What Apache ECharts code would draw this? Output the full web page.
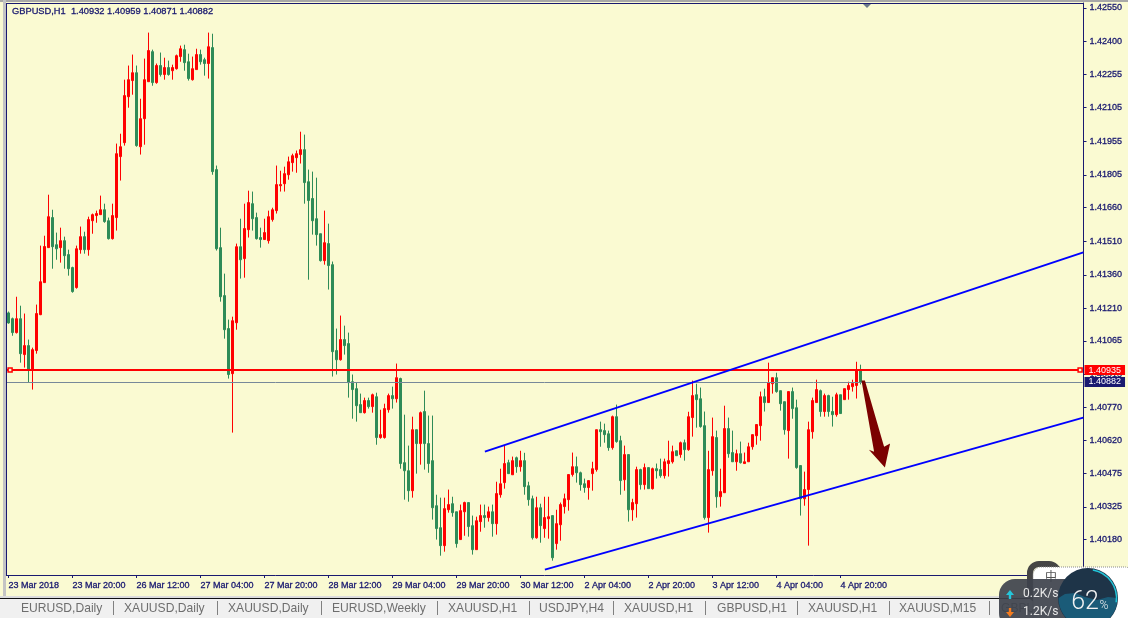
<!DOCTYPE html>
<html><head><meta charset="utf-8">
<style>html,body{margin:0;padding:0;background:#fafad2;overflow:hidden}#c{width:1128px;height:618px}</style>
<script src="https://cdn.jsdelivr.net/npm/echarts@6/dist/echarts.min.js"></script>
</head><body><div id="c"></div>
<script>
// Prices are written in points above 1.40000 (1 point = 0.00001)
const opens=[1190,1164,1102,1164,1004,1044,937,1022,1182,1325,
1481,1615,1494,1481,1512,1450,1392,1303,1472,1530,
1472,1601,1624,1628,1650,1601,1521,1615,1887,1949,
2154,2226,2261,1931,2056,2221,2355,2217,2293,2253,
2284,2270,2279,2333,2364,2310,2230,2275,2342,2319,
2302,2373,1829,1481,1267,1120,919,1146,1485,1432,
1561,1677,1615,1526,1517,1512,1606,1646,1757,1766,
1806,1860,1882,1896,1918,1775,1700,1610,1543,1423,
1499,1405,1022,981,1071,1053,883,852,781,745,
799,772,816,634,634,758,821,807,897,522,
486,397,669,607,750,607,531,330,232,152,
312,339,303,179,303,344,241,134,259,286,
277,303,250,379,433,522,468,544,504,531,
419,361,187,321,228,272,286,161,245,326,
357,469,504,477,428,411,473,491,669,665,
651,589,727,620,446,558,312,339,491,424,
500,406,495,491,464,518,526,575,558,611,
580,723,825,807,687,277,486,634,370,388,
674,567,526,562,518,526,593,642,687,816,
790,874,901,843,794,665,839,767,509,361,
402,660,790,843,750,821,750,736,825,803,
848,861,866,932];
const closes=[1145,1102,1164,1008,1044,937,1026,1187,1329,1486,
1619,1485,1476,1512,1445,1387,1285,1476,1530,1472,
1606,1628,1633,1650,1597,1521,1624,1900,1931,2159,
2230,2261,1936,2056,2230,2360,2217,2293,2253,2284,
2253,2284,2337,2368,2306,2235,2279,2342,2310,2302,
2377,1820,1476,1262,1115,915,1155,1485,1427,1566,
1682,1610,1521,1517,1548,1619,1650,1762,1762,1811,
1864,1891,1900,1918,1771,1691,1601,1539,1423,1503,
1401,1017,981,1071,1044,879,848,776,745,799,
772,825,634,647,763,821,807,901,518,486,
397,669,607,745,607,518,321,228,152,317,
335,299,161,308,344,237,134,263,286,277,
303,250,384,428,518,473,531,504,531,415,
357,187,321,241,277,281,98,250,335,361,
469,504,477,424,411,442,495,669,660,647,
589,727,616,442,558,312,344,491,424,500,
406,495,486,464,526,531,571,553,611,580,
727,821,803,683,277,491,638,370,393,674,
562,526,562,522,526,593,647,692,816,790,
879,901,839,785,669,839,763,500,361,402,
669,799,848,750,821,750,736,825,741,852,
866,875,937,882];
const highs=[1196,1169,1262,1222,1187,1071,1035,1227,1490,1534,
1717,1650,1548,1570,1530,1472,1396,1490,1575,1552,
1619,1633,1646,1713,1677,1615,1677,1945,1989,2230,
2293,2342,2293,2145,2324,2440,2364,2302,2351,2328,
2315,2297,2342,2382,2386,2346,2333,2368,2364,2328,
2440,2435,1847,1570,1365,1160,1173,1499,1610,1677,
1735,1731,1637,1570,1610,1646,1659,1847,1824,1842,
1887,1900,1914,1998,1985,1829,1820,1793,1543,1646,
1588,1419,1120,1178,1133,1102,915,879,830,812,
812,830,834,758,785,830,861,964,901,736,
598,727,669,750,843,732,732,379,366,366,
402,370,303,335,348,344,286,281,335,335,
326,335,437,495,598,535,549,549,575,566,
437,375,370,339,370,370,286,312,344,384,
469,567,549,482,451,442,526,669,705,696,
665,732,781,642,598,558,361,504,495,518,
500,500,518,540,540,620,598,575,616,625,
749,888,874,857,750,575,723,665,495,776,
723,665,580,616,567,611,647,692,839,852,
968,901,923,843,794,839,857,803,509,482,
705,812,892,848,830,825,816,834,825,852,
883,892,972,959];
const lows=[1142,1088,1098,968,946,880,848,1008,1180,1325,
1481,1387,1427,1414,1387,1356,1280,1298,1454,1454,
1445,1543,1592,1628,1592,1517,1517,1557,1780,1936,
2105,2163,1931,1896,1940,2221,2203,2212,2244,2230,
2248,2230,2275,2310,2270,2226,2226,2275,2297,2248,
2235,1806,1468,1240,1075,897,656,1115,1343,1347,
1526,1557,1517,1481,1517,1499,1597,1633,1731,1731,
1784,1820,1815,1856,1677,1338,1539,1490,1419,1405,
1294,906,915,977,1004,812,718,705,745,741,
763,745,602,629,629,745,763,790,495,357,
348,366,473,513,491,477,268,179,107,125,
299,281,143,179,196,192,112,134,214,232,
259,192,201,366,406,473,468,477,482,379,
330,179,183,165,187,183,85,134,174,295,
308,460,433,397,388,357,397,482,593,611,
575,580,611,379,397,259,263,277,402,402,
406,402,451,455,451,460,518,553,544,531,
575,638,678,678,268,210,464,321,326,388,
544,526,486,518,518,526,580,602,620,750,
790,830,834,754,647,540,718,495,286,330,
152,629,790,727,727,727,683,727,741,803,
803,839,808,871];
const BARS_SLOTS=269;
const timeLabels=['23 Mar 2018','23 Mar 20:00','26 Mar 12:00','27 Mar 04:00','27 Mar 20:00','28 Mar 12:00','29 Mar 04:00','29 Mar 20:00','30 Mar 12:00','2 Apr 04:00','2 Apr 20:00','3 Apr 12:00','4 Apr 04:00','4 Apr 20:00'];
const priceTicks=['1.42550','1.42400','1.42255','1.42105','1.41955','1.41805','1.41660','1.41510','1.41360','1.41210','1.41065','1.40915','1.40770','1.40620','1.40475','1.40325','1.40180'];
const trendUpper=[[119.1,571],[268.7,1460]];
const trendLower=[[134.1,45],[268.7,723]];
const resistance=935, lastPrice=882;
const handles=[[0.4,935],[267.9,935]];
const arrowShape=[[213.25,888],[214.1,888],[218.9,593],[220.4,607],[219.1,500],[215.1,580],[216.4,571]];
const headerText='GBPUSD,H1  1.40932 1.40959 1.40871 1.40882';
const tabLabels=['EURUSD,Daily','XAUUSD,Daily','XAUUSD,Daily','EURUSD,Weekly','XAUUSD,H1','USDJPY,H4','XAUUSD,H1','GBPUSD,H1','XAUUSD,H1','XAUUSD,M15','GBPUSD,H1'];
const tabTextX=[21,124,228,332,448,539,624,717,808,899,1001];
const tabSepX=[113,217,321,437,529,613,705,797,889,989];

const px=p=>+(1.4+p*1e-5).toFixed(5);
const cats=Array.from({length:BARS_SLOTS},(_,i)=>String(i));
const candles=opens.map((o,i)=>[px(o),px(closes[i]),px(lows[i]),px(highs[i])]);
const toSeries=a=>a.map(d=>[d[0],px(d[1])]);
const NAVY='#191970', FONT='"Liberation Sans",Arial,sans-serif';
const inked={color:NAVY,fontFamily:'Liberation Sans',textBorderColor:NAVY,textBorderWidth:0.3};

const g=[];
g.push({type:'rect',shape:{x:0,y:0,width:1128,height:2},style:{fill:'#a8a8a8'},z:50});
g.push({type:'rect',shape:{x:3,y:0,width:3,height:598},style:{fill:'#c4c4c4'},z:50});
g.push({type:'rect',shape:{x:6,y:3,width:1,height:573},style:{fill:NAVY},z:50});
g.push({type:'rect',shape:{x:6,y:3,width:1078,height:1},style:{fill:NAVY},z:50});
g.push({type:'rect',shape:{x:0,y:596,width:1128,height:2},style:{fill:'#dcdcdc'},z:50});
g.push({type:'rect',shape:{x:0,y:598,width:1128,height:20},style:{fill:'#f0f0f0'},z:50});
g.push({type:'rect',shape:{x:0,y:598,width:1128,height:1},style:{fill:'#101010'},z:51});
tabSepX.forEach(x=>g.push({type:'rect',shape:{x:x,y:601,width:1,height:14},style:{fill:'#808080'},z:51}));
tabLabels.forEach((t,i)=>g.push({type:'text',x:tabTextX[i],y:609,style:{text:t,fill:'#6e6e6e',font:'12.1px '+FONT,textVerticalAlign:'middle',textBaseline:'middle'},z:51}));
// floating network-speed widget
g.push({type:'rect',shape:{x:1030,y:564,width:28,height:36,r:9},style:{fill:'none',stroke:'#454545',lineWidth:6},z:60});
g.push({type:'rect',shape:{x:1033,y:567,width:100,height:60,r:8},style:{fill:'#ffffff',stroke:'#8a8a8a',lineWidth:1,lineDash:[1,1]},z:61});
g.push({type:'text',x:1051,y:576,style:{text:'中',fill:'#555',font:'12px "Noto Sans CJK SC"',textAlign:'center',textVerticalAlign:'middle',textBaseline:'middle'},z:62});
g.push({type:'rect',shape:{x:999,y:579,width:90,height:50,r:[16,0,0,16]},style:{fill:'rgba(62,66,76,0.92)'},z:63});
g.push({type:'polygon',shape:{points:[[1010,590],[1014,595],[1011.2,595],[1011.2,599],[1008.8,599],[1008.8,595],[1006,595]]},style:{fill:'#25c6da'},z:64});
g.push({type:'polygon',shape:{points:[[1010,617],[1014,612],[1011.2,612],[1011.2,608],[1008.8,608],[1008.8,612],[1006,612]]},style:{fill:'#f57c1f'},z:64});
g.push({type:'text',x:1023,y:594,style:{text:'0.2K/s',fill:'#e8e8e8',font:'12px Roboto',textVerticalAlign:'middle',textBaseline:'middle'},z:64});
g.push({type:'text',x:1023,y:612,style:{text:'1.2K/s',fill:'#e8e8e8',font:'12px Roboto',textVerticalAlign:'middle',textBaseline:'middle'},z:64});
g.push({type:'circle',shape:{cx:1088,cy:598,r:30},style:{fill:'#1e3448'},z:65});
const wave=[];
for(let a=0;a<=36;a++){const t=a/36*Math.PI;wave.push([1088+29.5*Math.cos(t),598+29.5*Math.sin(t)]);}
[[1065,594],[1075,593],[1085,597],[1097,600],[1108,597]].forEach(p=>wave.push(p));
g.push({type:'polygon',shape:{points:wave},style:{fill:'#1a5b78'},z:66});
g.push({type:'arc',shape:{cx:1088,cy:598,r:28.5,startAngle:-1.4,endAngle:0.15},style:{fill:'none',stroke:'#22c4d8',lineWidth:1.5},z:67});
g.push({type:'text',x:1085,y:603,style:{text:'62',fill:'#f2f2f2',font:'300 25px Roboto',textAlign:'center',textVerticalAlign:'middle',textBaseline:'middle'},z:68});
g.push({type:'text',x:1104,y:606,style:{text:'%',fill:'#f2f2f2',font:'300 12px Roboto',textAlign:'center',textVerticalAlign:'middle',textBaseline:'middle'},z:68});
g.push({type:'polygon',shape:{points:[[862,3],[872,3],[867,8]]},style:{fill:'#6c7a8a'},z:40});

const hline=(value,color,width,bg)=>({yAxis:px(value),lineStyle:{color:color,width:width,type:'solid'},
  label:{show:true,position:'end',distance:2,formatter:()=>px(value).toFixed(5),color:'#fff',backgroundColor:bg,padding:[1,4,0,4],fontFamily:'Liberation Sans',fontSize:9}});

const chart=echarts.init(document.getElementById('c'),null,{renderer:'canvas'});
chart.setOption({
  animation:false,
  backgroundColor:'#fafad2',
  title:{text:headerText,left:12,top:7,textStyle:Object.assign({fontWeight:'normal',fontSize:9.3},inked),padding:0},
  grid:{left:6.5,top:3,width:1076,height:572,show:false,containLabel:false},
  xAxis:[{type:'category',data:cats,boundaryGap:true,
      axisLine:{show:true,onZero:false,lineStyle:{color:NAVY,width:1}},
      axisTick:{show:true,length:3,alignWithLabel:true,lineStyle:{color:NAVY},interval:i=>i%16===0&&i/16<timeLabels.length},
      axisLabel:Object.assign({interval:15,align:'left',margin:6,fontSize:9,showMinLabel:true,showMaxLabel:false,hideOverlap:false,
        formatter:(v,i)=>timeLabels[+v/16]||''},inked),
      splitLine:{show:false}},
    {type:'value',min:-0.5,max:BARS_SLOTS-0.5,show:false,axisLine:{onZero:false},splitLine:{show:false}}],
  yAxis:{type:'value',position:'right',offset:1,min:px(21),max:px(2572),scale:true,
      axisLine:{show:true,onZero:false,lineStyle:{color:NAVY,width:1}},
      axisTick:{show:true,length:3,lineStyle:{color:NAVY},customValues:priceTicks.map(Number)},
      axisLabel:Object.assign({margin:6,fontSize:9,padding:[3,0,0,0],customValues:priceTicks.map(Number),formatter:v=>(+v).toFixed(5),showMinLabel:true,showMaxLabel:true},inked),
      splitLine:{show:false}},
  series:[
    {type:'candlestick',name:'GBPUSD,H1',xAxisIndex:0,yAxisIndex:0,data:candles,barWidth:2,
      itemStyle:{color:'#ff0000',color0:'#2e8b57',borderColor:'#ff0000',borderColor0:'#2e8b57',borderColorDoji:'#2e8b57',borderWidth:1}},
    {type:'line',name:'upper',xAxisIndex:1,yAxisIndex:0,data:toSeries(trendUpper),showSymbol:false,symbol:'none',lineStyle:{color:'#0000ff',width:2},z:5},
    {type:'line',name:'lower',xAxisIndex:1,yAxisIndex:0,data:toSeries(trendLower),showSymbol:false,symbol:'none',lineStyle:{color:'#0000ff',width:2},z:5},
    {type:'scatter',name:'handles',xAxisIndex:1,yAxisIndex:0,data:toSeries(handles),symbol:'rect',symbolSize:4,itemStyle:{color:'#fafad2',borderColor:'#ff0000',borderWidth:1.5,opacity:1},z:6,silent:true,
      markLine:{silent:true,symbol:'none',animation:false,precision:5,data:[hline(lastPrice,'#778899',1,NAVY),hline(resistance,'#ff0000',2,'#ff0000')]}},
    {type:'custom',name:'arrow',xAxisIndex:1,yAxisIndex:0,data:[toSeries(arrowShape)[0]],z:6,silent:true,clip:false,
      renderItem:(p,api)=>({type:'polygon',shape:{points:toSeries(arrowShape).map(c=>api.coord(c))},style:{fill:'#7b0000'}})}
  ],
  graphic:{elements:g}
});
</script></body></html>
